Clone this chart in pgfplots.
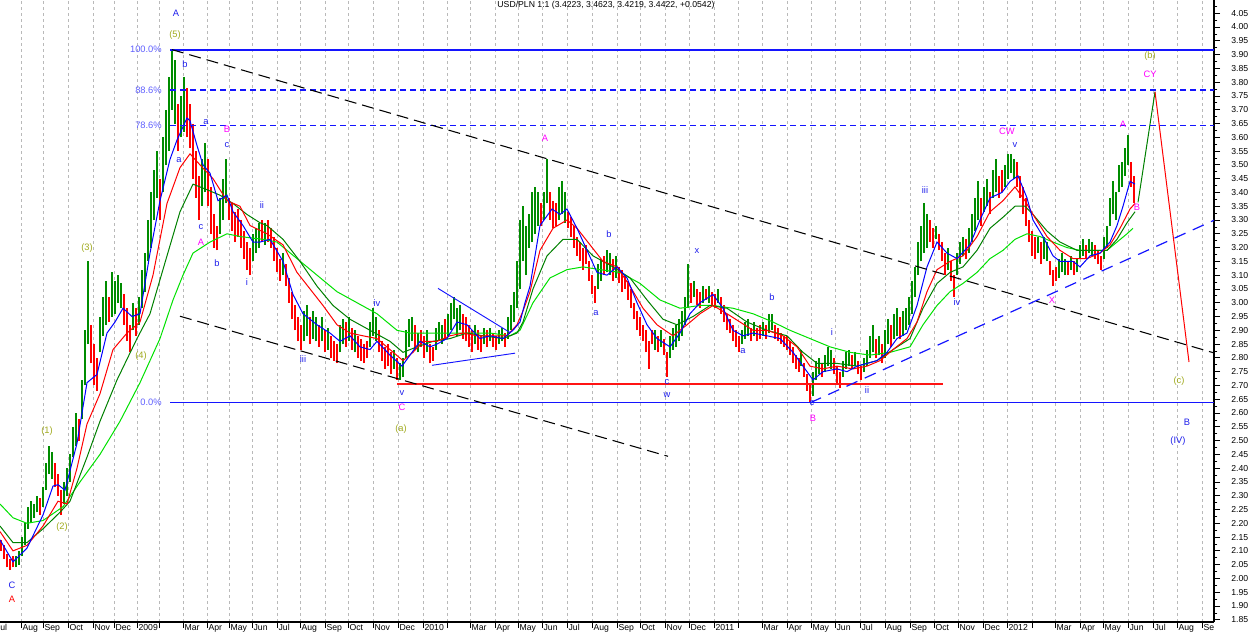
\documentclass[border=0pt]{standalone}
\usepackage{fontspec}
\setmainfont{Liberation Sans}
\usepackage{pgfplots}
\usepackage{pgfplotstable}
\pgfplotsset{compat=1.18}

\definecolor{barup}{RGB}{0,140,0}
\definecolor{bardn}{RGB}{255,0,0}
\definecolor{maone}{RGB}{0,0,255}
\definecolor{matwo}{RGB}{255,0,0}
\definecolor{mathree}{RGB}{0,128,0}
\definecolor{mafour}{RGB}{0,225,0}
\definecolor{lvlblue}{RGB}{20,20,255}
\definecolor{lvlred}{RGB}{255,20,20}
\definecolor{wblue}{RGB}{30,30,235}
\definecolor{wmag}{RGB}{255,0,255}
\definecolor{wolive}{RGB}{160,170,30}
\definecolor{fibcol}{RGB}{95,95,255}

\pgfplotsset{
  pricebars/.style={draw=none, mark=none,
    error bars/.cd, y dir=plus, y explicit, error mark=none,
    error bar style={draw=#1, line width=1.2pt}},
}

% bars: x position, low, high
\pgfplotstableread{
x lo hi
16 2.04 2.08
19 2.05 2.10
22 2.08 2.15
25 2.12 2.20
28 2.18 2.26
31 2.20 2.28
34 2.22 2.27
37 2.24 2.30
43 2.26 2.33
46 2.32 2.42
49 2.38 2.48
52 2.36 2.46
64 2.27 2.35
67 2.30 2.40
70 2.35 2.45
73 2.44 2.55
76 2.48 2.60
82 2.58 2.72
85 2.70 2.90
88 2.85 3.15
100 2.82 2.95
103 2.88 3.02
106 2.92 3.08
112 2.95 3.11
115 2.96 3.08
118 3.00 3.10
121 2.98 3.07
133 2.90 3.00
139 2.92 3.02
142 2.98 3.12
145 3.04 3.18
148 3.15 3.30
151 3.20 3.40
154 3.30 3.48
157 3.38 3.55
163 3.40 3.60
166 3.50 3.70
169 3.55 3.82
172 3.70 3.92
175 3.65 3.88
181 3.60 3.75
184 3.62 3.82
202 3.35 3.52
205 3.40 3.58
220 3.25 3.38
223 3.30 3.45
226 3.36 3.52
253 3.15 3.25
256 3.18 3.27
259 3.20 3.29
265 3.21 3.29
283 3.10 3.18
304 2.86 2.97
307 2.88 2.99
313 2.87 2.97
316 2.86 2.95
322 2.86 2.95
328 2.83 2.91
340 2.82 2.92
343 2.85 2.94
349 2.86 2.95
355 2.82 2.90
370 2.84 2.93
373 2.88 2.98
376 2.86 2.95
394 2.76 2.83
400 2.72 2.78
403 2.73 2.80
406 2.80 2.90
409 2.84 2.94
412 2.86 2.95
418 2.82 2.89
427 2.82 2.90
436 2.83 2.91
439 2.86 2.93
442 2.85 2.92
448 2.88 2.96
451 2.90 3.00
454 2.94 3.02
457 2.88 2.98
460 2.90 2.99
475 2.85 2.92
484 2.85 2.91
490 2.86 2.91
499 2.85 2.90
502 2.86 2.91
508 2.87 2.95
511 2.90 2.99
514 2.93 3.04
517 2.98 3.15
520 3.05 3.30
523 3.15 3.35
526 3.10 3.28
529 3.20 3.32
532 3.22 3.40
535 3.25 3.42
538 3.28 3.40
544 3.30 3.40
547 3.36 3.52
559 3.30 3.42
562 3.32 3.44
565 3.29 3.40
598 3.05 3.14
601 3.08 3.16
607 3.11 3.19
610 3.10 3.18
616 3.09 3.17
655 2.83 2.90
661 2.84 2.90
670 2.80 2.88
673 2.83 2.91
676 2.84 2.92
679 2.86 2.94
682 2.88 2.97
685 2.92 3.02
688 2.98 3.14
694 3.02 3.08
703 3.00 3.06
709 3.00 3.06
718 3.00 3.05
742 2.85 2.90
745 2.87 2.93
748 2.88 2.94
754 2.88 2.93
763 2.88 2.93
769 2.89 2.96
772 2.90 2.96
801 2.77 2.83
813 2.66 2.75
816 2.72 2.79
819 2.74 2.80
825 2.75 2.81
828 2.77 2.84
831 2.76 2.83
843 2.73 2.79
846 2.76 2.82
849 2.77 2.83
855 2.77 2.82
864 2.75 2.80
867 2.77 2.83
870 2.80 2.88
873 2.82 2.92
879 2.81 2.88
885 2.80 2.90
888 2.85 2.94
894 2.87 2.96
897 2.88 2.98
903 2.88 2.97
906 2.90 2.98
909 2.92 3.02
912 2.96 3.08
915 3.02 3.13
918 3.10 3.22
921 3.15 3.28
924 3.18 3.36
927 3.20 3.32
936 3.23 3.28
948 3.12 3.20
957 3.10 3.18
960 3.14 3.22
963 3.17 3.24
969 3.18 3.27
972 3.22 3.32
975 3.26 3.38
978 3.30 3.44
984 3.33 3.42
987 3.35 3.45
993 3.38 3.48
996 3.40 3.52
1005 3.42 3.50
1008 3.45 3.54
1011 3.47 3.54
1014 3.45 3.52
1038 3.18 3.24
1044 3.16 3.24
1047 3.15 3.22
1059 3.09 3.16
1062 3.11 3.18
1065 3.10 3.16
1071 3.12 3.17
1077 3.11 3.16
1080 3.16 3.21
1083 3.17 3.23
1089 3.18 3.23
1092 3.17 3.22
1104 3.16 3.24
1107 3.20 3.28
1110 3.28 3.38
1113 3.32 3.44
1116 3.30 3.40
1119 3.40 3.50
1122 3.42 3.51
1125 3.46 3.56
1128 3.50 3.61
}\upbars

\pgfplotstableread{
x lo hi
1 2.10 2.14
4 2.07 2.12
7 2.04 2.09
10 2.03 2.07
13 2.04 2.08
40 2.23 2.29
55 2.33 2.42
58 2.30 2.38
61 2.23 2.32
79 2.50 2.58
91 2.78 2.92
94 2.70 2.85
97 2.68 2.80
109 2.93 3.02
124 2.92 3.03
127 2.86 2.98
130 2.82 2.92
136 2.88 2.98
160 3.30 3.45
178 3.55 3.72
187 3.60 3.78
190 3.56 3.72
193 3.45 3.65
196 3.38 3.55
199 3.30 3.46
208 3.35 3.52
211 3.25 3.42
214 3.20 3.32
217 3.19 3.28
229 3.30 3.38
232 3.26 3.36
235 3.22 3.33
238 3.24 3.34
241 3.20 3.30
244 3.16 3.26
247 3.12 3.22
250 3.10 3.20
262 3.22 3.30
268 3.22 3.30
271 3.20 3.27
274 3.15 3.24
277 3.11 3.20
280 3.08 3.16
286 3.06 3.14
289 3.00 3.09
292 2.94 3.04
295 2.90 2.99
298 2.86 2.95
301 2.83 2.92
310 2.85 2.95
319 2.84 2.92
325 2.82 2.90
331 2.80 2.88
334 2.79 2.86
337 2.78 2.85
346 2.84 2.93
352 2.83 2.91
358 2.80 2.88
361 2.79 2.87
364 2.78 2.85
367 2.80 2.86
379 2.82 2.90
382 2.79 2.86
385 2.76 2.84
388 2.77 2.85
391 2.74 2.82
397 2.72 2.80
415 2.83 2.92
421 2.84 2.90
424 2.80 2.88
430 2.78 2.85
433 2.79 2.84
445 2.87 2.94
463 2.87 2.96
466 2.86 2.95
469 2.84 2.92
472 2.82 2.90
478 2.83 2.90
481 2.82 2.88
487 2.84 2.90
493 2.84 2.89
496 2.83 2.88
505 2.84 2.89
541 3.28 3.36
550 3.30 3.40
553 3.27 3.37
556 3.28 3.36
568 3.27 3.33
571 3.24 3.31
574 3.20 3.28
577 3.17 3.24
580 3.15 3.22
583 3.12 3.20
586 3.14 3.21
589 3.08 3.15
592 3.03 3.10
595 3.00 3.06
604 3.10 3.17
613 3.08 3.16
619 3.07 3.13
622 3.04 3.12
625 3.05 3.10
628 3.01 3.08
631 2.98 3.05
634 2.94 3.00
637 2.90 2.97
640 2.88 2.95
643 2.86 2.92
646 2.82 2.90
649 2.76 2.86
652 2.85 2.90
658 2.82 2.88
664 2.81 2.87
667 2.73 2.82
691 3.00 3.07
697 2.99 3.05
700 2.98 3.04
706 3.01 3.05
712 2.99 3.04
715 2.98 3.03
721 2.96 3.02
724 2.93 2.99
727 2.90 2.96
730 2.89 2.94
733 2.86 2.92
736 2.84 2.90
739 2.82 2.88
751 2.86 2.91
757 2.86 2.91
760 2.87 2.92
766 2.87 2.92
775 2.87 2.92
778 2.86 2.91
781 2.85 2.89
784 2.84 2.88
787 2.83 2.88
790 2.81 2.86
793 2.78 2.84
796 2.76 2.81
799 2.75 2.80
804 2.73 2.78
807 2.68 2.74
810 2.64 2.70
822 2.73 2.78
834 2.74 2.80
837 2.71 2.77
840 2.69 2.75
852 2.76 2.81
858 2.74 2.79
861 2.72 2.77
876 2.80 2.87
882 2.78 2.85
891 2.84 2.92
900 2.87 2.95
930 3.22 3.30
933 3.20 3.27
939 3.19 3.25
942 3.15 3.22
945 3.10 3.18
951 3.08 3.15
954 3.02 3.10
966 3.16 3.23
981 3.28 3.38
990 3.32 3.40
999 3.38 3.46
1002 3.40 3.48
1017 3.42 3.51
1020 3.38 3.46
1023 3.32 3.42
1026 3.28 3.38
1029 3.22 3.30
1032 3.17 3.26
1035 3.16 3.24
1041 3.14 3.22
1050 3.10 3.15
1053 3.06 3.12
1056 3.08 3.13
1068 3.10 3.15
1074 3.10 3.15
1086 3.16 3.21
1095 3.16 3.21
1098 3.14 3.19
1101 3.12 3.17
1131 3.42 3.51
1134 3.36 3.46
}\dnbars

\begin{document}
\begin{tikzpicture}[
  lab/.style={font=\fontsize{7}{8}\selectfont, inner sep=0pt}
]
\useasboundingbox (0,-10.5pt) rectangle (937.5pt,466.5pt);
\begin{axis}[
  at={(0,0)}, anchor=south west,
  width=910.5pt, height=466.5pt, scale only axis,
  xmin=0, xmax=1214, ymin=1.842, ymax=4.098,
  axis x line*=bottom, axis y line*=right,
  axis line style={black, line width=0.8pt},
  tick align=outside, major tick length=4.5pt, minor tick length=2.5pt,
  tick style={black, line width=0.6pt},
  ytick distance=0.05, minor y tick num=1,
  yticklabel style={xshift=5pt, /pgf/number format/.cd, fixed, fixed zerofill, precision=2, assume math mode=true},
  xtick={21,43,68,93,114,137,159,183,207,229,252,277,300,325,348,373,398,423,447,470,495,518,542,567,592,617,640,665,689,714,738,762,787,811,835,860,885,910,934,958,983,1007,1032,1055,1080,1103,1128,1153,1177,1202},
  xticklabels={Aug,Sep,Oct,Nov,Dec,2009,{},Mar,Apr,May,Jun,Jul,Aug,Sep,Oct,Nov,Dec,2010,{},Mar,Apr,May,Jun,Jul,Aug,Sep,Oct,Nov,Dec,2011,{},Mar,Apr,May,Jun,Jul,Aug,Sep,Oct,Nov,Dec,2012,{},Mar,Apr,May,Jun,Jul,Aug,Se},
  xticklabel style={anchor=north west, inner sep=0pt, xshift=1pt, yshift=3pt},
  tick label style={font=\fontsize{6.5}{7}\selectfont},
  xmajorgrids,
  major grid style={gray!55, line width=0.7pt, dash pattern=on 2.25pt off 2.25pt},
]
% price bars
\addplot[pricebars=barup]
  table[x=x, y=lo, y error expr=\thisrow{hi}-\thisrow{lo}] {\upbars};
\addplot[pricebars=bardn]
  table[x=x, y=lo, y error expr=\thisrow{hi}-\thisrow{lo}] {\dnbars};

% moving averages
\addplot[color=mafour, line width=0.75pt] coordinates {(0,2.27)(13,2.22)(27,2.20)(43,2.21)(63,2.26)(80,2.35)(100,2.45)(120,2.57)(140,2.71)(160,2.87)(173,3.01)(183,3.10)(193,3.18)(210,3.22)(227,3.25)(240,3.24)(263,3.23)(277,3.22)(297,3.16)(317,3.10)(337,3.04)(357,3.00)(377,2.96)(397,2.90)(410,2.89)(430,2.89)(450,2.89)(470,2.89)(490,2.89)(510,2.88)(520,2.90)(533,3.00)(550,3.09)(567,3.12)(583,3.13)(600,3.12)(620,3.11)(640,3.07)(660,3.01)(680,2.98)(700,2.99)(713,2.99)(733,2.98)(753,2.96)(773,2.93)(790,2.90)(810,2.87)(830,2.84)(850,2.82)(870,2.81)(890,2.82)(910,2.84)(923,2.92)(937,2.99)(950,3.04)(963,3.07)(977,3.11)(990,3.16)(1003,3.19)(1015,3.23)(1027,3.25)(1040,3.24)(1053,3.22)(1067,3.20)(1080,3.19)(1093,3.19)(1107,3.19)(1117,3.22)(1127,3.25)(1133,3.27)};
\addplot[color=mathree, line width=0.75pt] coordinates {(0,2.19)(13,2.13)(27,2.13)(43,2.18)(60,2.24)(70,2.28)(87,2.44)(100,2.57)(117,2.72)(137,2.87)(150,2.96)(167,3.17)(180,3.33)(193,3.43)(207,3.41)(220,3.39)(233,3.36)(247,3.32)(260,3.29)(267,3.28)(283,3.23)(300,3.15)(317,3.06)(333,2.99)(350,2.94)(370,2.90)(390,2.86)(403,2.82)(417,2.84)(433,2.86)(450,2.87)(467,2.89)(483,2.88)(503,2.87)(517,2.89)(523,2.93)(533,3.05)(547,3.17)(563,3.23)(577,3.23)(593,3.17)(613,3.13)(630,3.09)(647,3.01)(663,2.94)(677,2.92)(693,2.95)(710,2.99)(727,2.98)(747,2.93)(767,2.90)(787,2.88)(803,2.82)(817,2.78)(837,2.78)(857,2.77)(877,2.79)(893,2.83)(910,2.87)(923,2.98)(937,3.07)(950,3.11)(963,3.13)(977,3.19)(990,3.27)(1003,3.31)(1015,3.35)(1025,3.35)(1033,3.32)(1047,3.26)(1060,3.22)(1077,3.19)(1093,3.19)(1107,3.19)(1117,3.23)(1127,3.29)(1135,3.33)};
\addplot[color=matwo, line width=0.75pt] coordinates {(0,2.17)(13,2.10)(27,2.12)(43,2.19)(58,2.28)(67,2.27)(77,2.40)(87,2.56)(100,2.67)(113,2.83)(127,2.89)(140,2.93)(153,3.10)(167,3.36)(180,3.49)(190,3.54)(200,3.50)(213,3.45)(227,3.37)(240,3.35)(250,3.28)(267,3.25)(283,3.21)(297,3.11)(310,3.05)(323,2.99)(337,2.92)(350,2.89)(363,2.88)(377,2.87)(390,2.83)(403,2.79)(413,2.82)(423,2.86)(437,2.86)(450,2.88)(463,2.89)(477,2.88)(490,2.88)(507,2.88)(517,2.92)(523,2.97)(530,3.04)(540,3.19)(553,3.27)(567,3.30)(577,3.27)(590,3.21)(603,3.15)(617,3.13)(630,3.06)(643,2.98)(657,2.92)(673,2.88)(687,2.92)(700,2.96)(713,2.99)(727,2.96)(740,2.93)(753,2.90)(767,2.90)(783,2.88)(797,2.84)(810,2.77)(823,2.76)(837,2.77)(853,2.76)(867,2.77)(880,2.79)(893,2.83)(907,2.87)(917,2.93)(927,3.04)(937,3.12)(950,3.15)(963,3.17)(977,3.24)(990,3.33)(1003,3.37)(1015,3.42)(1025,3.37)(1033,3.32)(1047,3.24)(1060,3.19)(1073,3.16)(1087,3.16)(1100,3.18)(1110,3.21)(1120,3.27)(1130,3.34)(1135,3.36)};
\addplot[color=maone, line width=0.75pt] coordinates {(0,2.14)(13,2.06)(27,2.11)(43,2.23)(53,2.335)(58,2.34)(65,2.32)(77,2.49)(87,2.71)(97,2.74)(107,2.89)(115,2.93)(123,2.98)(132,2.95)(140,2.96)(150,3.18)(160,3.37)(170,3.52)(177,3.59)(187,3.67)(190,3.66)(197,3.57)(203,3.50)(210,3.47)(218,3.37)(227,3.39)(233,3.33)(243,3.28)(253,3.22)(260,3.22)(270,3.23)(283,3.15)(293,3.03)(303,2.96)(317,2.92)(330,2.89)(340,2.86)(350,2.88)(360,2.84)(370,2.83)(377,2.86)(390,2.81)(402,2.77)(410,2.81)(420,2.86)(430,2.84)(437,2.85)(447,2.87)(457,2.93)(467,2.92)(480,2.87)(490,2.88)(503,2.87)(513,2.90)(520,2.93)(525,3.00)(530,3.06)(540,3.28)(552,3.34)(560,3.32)(567,3.34)(577,3.27)(587,3.19)(597,3.11)(607,3.10)(617,3.13)(627,3.09)(637,3.00)(647,2.92)(657,2.87)(670,2.84)(680,2.89)(690,2.96)(700,3.00)(713,3.03)(723,2.98)(733,2.90)(743,2.88)(753,2.89)(767,2.88)(780,2.87)(793,2.82)(807,2.75)(813,2.72)(823,2.75)(837,2.76)(847,2.75)(857,2.77)(867,2.78)(877,2.79)(887,2.82)(897,2.87)(907,2.89)(917,2.99)(927,3.13)(937,3.22)(947,3.18)(957,3.16)(970,3.21)(980,3.30)(990,3.38)(1002,3.40)(1010,3.44)(1018,3.46)(1027,3.38)(1033,3.30)(1043,3.24)(1053,3.17)(1060,3.15)(1073,3.15)(1080,3.13)(1090,3.17)(1100,3.18)(1110,3.22)(1117,3.28)(1123,3.35)(1130,3.44)(1135,3.43)};

% projected path
\addplot[color=mathree, line width=0.75pt] coordinates {(1138,3.364)(1155,3.765)};
\addplot[color=matwo, line width=0.75pt] coordinates {(1155,3.765)(1189,2.785)};

% retracement levels and support line
\addplot[color=lvlblue, line width=1.2pt] coordinates {(170,3.917)(1214,3.917)};
\addplot[color=lvlblue, line width=0.95pt, dash pattern=on 4.5pt off 3pt] coordinates {(170,3.772)(1214,3.772)};
\addplot[color=lvlblue, line width=0.95pt, dash pattern=on 4.5pt off 3pt] coordinates {(170,3.644)(1214,3.644)};
\addplot[color=lvlblue, line width=1.1pt] coordinates {(170,2.638)(1214,2.638)};
\addplot[color=lvlred, line width=1.2pt] coordinates {(397,2.706)(943,2.706)};

% channel and trend lines
\addplot[color=black, line width=0.8pt, dash pattern=on 9pt off 4.5pt] coordinates {(172,3.918)(1214,2.818)};
\addplot[color=black, line width=0.8pt, dash pattern=on 9pt off 4.5pt] coordinates {(180,2.951)(668,2.443)};
\addplot[color=lvlblue, line width=0.9pt, dash pattern=on 9pt off 6pt] coordinates {(810,2.637)(1214,3.299)};
\addplot[color=lvlblue, line width=0.7pt] coordinates {(438,3.052)(510,2.892)};
\addplot[color=lvlblue, line width=0.7pt] coordinates {(432,2.773)(515,2.817)};

% texts
\node[lab, black, font=\fontsize{6.5}{7}\selectfont] at (axis cs:606,4.079) {USD/PLN 1:1 (3.4223, 3.4623, 3.4219, 3.4422, +0.0542)};
\node[lab, fibcol, anchor=east] at (axis cs:162,3.918) {100.0\%};
\node[lab, fibcol, anchor=east] at (axis cs:162,3.770) {88.6\%};
\node[lab, fibcol, anchor=east] at (axis cs:162,3.642) {78.6\%};
\node[lab, fibcol, anchor=east] at (axis cs:162,2.639) {0.0\%};

\node[lab, wblue] at (axis cs:176,4.049) {A};
\node[lab, wolive] at (axis cs:175,3.972) {(5)};
\node[lab, wblue] at (axis cs:185,3.867) {b};
\node[lab, wblue] at (axis cs:206,3.657) {a};
\node[lab, wmag] at (axis cs:227,3.628) {B};
\node[lab, wblue] at (axis cs:227,3.571) {c};
\node[lab, wblue] at (axis cs:179,3.517) {a};
\node[lab, wblue] at (axis cs:201,3.274) {c};
\node[lab, wmag] at (axis cs:201,3.221) {A};
\node[lab, wblue] at (axis cs:217,3.143) {b};
\node[lab, wblue] at (axis cs:247,3.075) {i};
\node[lab, wblue] at (axis cs:262,3.355) {ii};
\node[lab, wblue] at (axis cs:303,2.795) {iii};
\node[lab, wblue] at (axis cs:377,2.998) {iv};
\node[lab, wblue] at (axis cs:402,2.671) {v};
\node[lab, wmag] at (axis cs:402,2.620) {C};
\node[lab, wolive] at (axis cs:401,2.540) {(a)};
\node[lab, wolive] at (axis cs:87,3.199) {(3)};
\node[lab, wolive] at (axis cs:141,2.806) {(4)};
\node[lab, wolive] at (axis cs:47,2.533) {(1)};
\node[lab, wolive] at (axis cs:62,2.186) {(2)};
\node[lab, wblue] at (axis cs:12,1.975) {C};
\node[lab, red] at (axis cs:12,1.926) {A};
\node[lab, wmag] at (axis cs:545,3.598) {A};
\node[lab, wblue] at (axis cs:609,3.249) {b};
\node[lab, wblue] at (axis cs:596,2.962) {a};
\node[lab, wblue] at (axis cs:667,2.713) {c};
\node[lab, wblue] at (axis cs:667,2.664) {w};
\node[lab, wblue] at (axis cs:697,3.187) {x};
\node[lab, wblue] at (axis cs:743,2.825) {a};
\node[lab, wblue] at (axis cs:772,3.020) {b};
\node[lab, wblue] at (axis cs:812,2.636) {c};
\node[lab, wmag] at (axis cs:813,2.580) {B};
\node[lab, wblue] at (axis cs:832,2.893) {i};
\node[lab, wblue] at (axis cs:867,2.682) {ii};
\node[lab, wblue] at (axis cs:925,3.409) {iii};
\node[lab, wblue] at (axis cs:957,3.002) {iv};
\node[lab, wmag] at (axis cs:1007,3.620) {CW};
\node[lab, wblue] at (axis cs:1015,3.573) {v};
\node[lab, wmag] at (axis cs:1052,3.009) {X};
\node[lab, wmag] at (axis cs:1123,3.648) {A};
\node[lab, wmag] at (axis cs:1137,3.347) {B};
\node[lab, wolive] at (axis cs:1150,3.893) {(b)};
\node[lab, wmag] at (axis cs:1150,3.827) {CY};
\node[lab, wolive] at (axis cs:1179,2.715) {(c)};
\node[lab, wblue] at (axis cs:1187,2.566) {B};
\node[lab, wblue] at (axis cs:1178,2.497) {(IV)};
\end{axis}
\node[anchor=north west, inner sep=0pt, font=\fontsize{6.5}{7}\selectfont] at (0,-1.5pt) {ul};
\end{tikzpicture}
\end{document}
